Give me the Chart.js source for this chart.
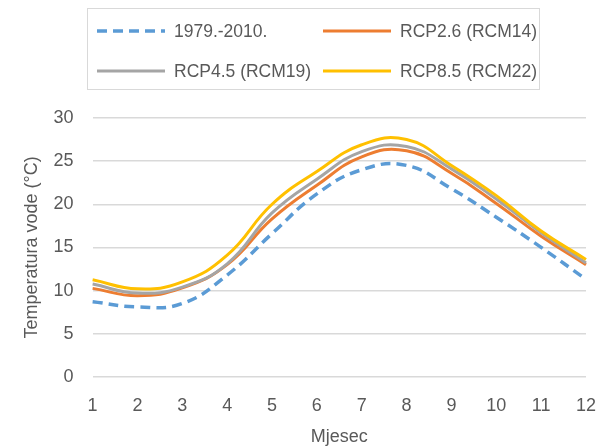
<!DOCTYPE html>
<html>
<head>
<meta charset="utf-8">
<script src="https://cdn.jsdelivr.net/npm/chart.js@4/dist/chart.umd.min.js"></script>
<style>
  html, body { margin: 0; padding: 0; background: #fff; }
  #wrap { width: 614px; height: 448px; position: relative; }
</style>
</head>
<body>
<div id="wrap"><canvas id="chart"></canvas></div>
<script>
// ─── Data ─────────────────────────────────────────
const months = ['1', '2', '3', '4', '5', '6', '7', '8', '9', '10', '11', '12'];
const seriesNames = ['1979.-2010.', 'RCP2.6 (RCM14)', 'RCP4.5 (RCM19)', 'RCP8.5 (RCM22)'];
const baseline = [8.7, 8.1, 8.5, 11.8, 16.6, 21.2, 24.0, 24.5, 21.8, 18.5, 15.0, 11.3];
const rcp26 = [10.25, 9.4, 10.3, 13.0, 18.3, 22.2, 25.5, 26.2, 23.6, 20.1, 16.3, 13.0];
const rcp45 = [10.75, 9.7, 10.4, 13.1, 19.0, 22.9, 26.1, 26.7, 24.1, 20.6, 16.7, 13.2];
const rcp85 = [11.25, 10.2, 11.0, 14.1, 20.0, 23.8, 26.9, 27.5, 24.5, 21.0, 16.9, 13.6];
const yTicks = [0, 5, 10, 15, 20, 25, 30];

const TEXT = '#595959';
const FONT = "'Liberation Sans', Arial, sans-serif";
const COLORS = ['#5B9BD5', '#ED7D31', '#A5A5A5', '#FFC000'];

// ─── Boxed legend (two columns) ───────────────────
const boxLegend = {
  id: 'boxLegend',
  afterDraw(chart) {
    const ctx = chart.ctx;
    ctx.save();
    ctx.strokeStyle = '#d9d9d9';
    ctx.lineWidth = 1;
    ctx.strokeRect(87.5, 8.5, 452, 81);

    const cols = [97, 323];
    const rows = [31, 71];
    ctx.font = '17.5px ' + FONT;
    ctx.textBaseline = 'middle';
    ctx.fillStyle = TEXT;
    chart.data.datasets.forEach((ds, i) => {
      const x = cols[i % 2];
      const y = rows[Math.floor(i / 2)];
      ctx.beginPath();
      ctx.strokeStyle = ds.borderColor;
      ctx.lineWidth = ds.borderWidth;
      ctx.setLineDash(ds.borderDash || []);
      ctx.moveTo(x, y);
      ctx.lineTo(x + 68, y);
      ctx.stroke();
      ctx.setLineDash([]);
      ctx.fillText(ds.label, x + 77, y + 1);
    });
    ctx.restore();
  }
};

function makeSet(i, values, extra) {
  return Object.assign({
    label: seriesNames[i],
    data: values,
    borderColor: COLORS[i],
    backgroundColor: COLORS[i],
    borderWidth: 3,
    pointRadius: 0,
    tension: 0.45,
    fill: false,
    order: 4 - i,
  }, extra || {});
}

new Chart(document.getElementById('chart'), {
  type: 'line',
  data: {
    labels: months,
    datasets: [
      makeSet(0, baseline, { borderDash: [10, 6], borderWidth: 3.5 }),
      makeSet(1, rcp26),
      makeSet(2, rcp45),
      makeSet(3, rcp85),
    ],
  },
  options: {
    responsive: true,
    maintainAspectRatio: false,
    animation: false,
    layout: { padding: { top: 118, right: 13, bottom: 0, left: 0 } },
    plugins: {
      legend: { display: false },
      tooltip: { enabled: false },
    },
    scales: {
      x: {
        offset: false,
        grid: { display: false, drawTicks: false },
        border: { display: false },
        ticks: { color: TEXT, font: { size: 18, family: FONT }, padding: 18, maxRotation: 0 },
        title: { display: true, text: 'Mjesec', color: TEXT, font: { size: 18, family: FONT }, padding: { top: -8, bottom: 0 } },
      },
      y: {
        min: 0,
        max: 30,
        afterBuildTicks: (axis) => { axis.ticks = yTicks.map(v => ({ value: v })); },
        grid: { color: '#d9d9d9', lineWidth: 1.5, drawTicks: false },
        border: { display: false },
        ticks: { color: TEXT, font: { size: 18, family: FONT }, padding: 19 },
        title: { display: true, text: 'Temperatura vode (°C)', color: TEXT, font: { size: 18, family: FONT }, padding: { top: 21, bottom: -8 } },
      },
    },
  },
  plugins: [boxLegend],
});
</script>
</body>
</html>
